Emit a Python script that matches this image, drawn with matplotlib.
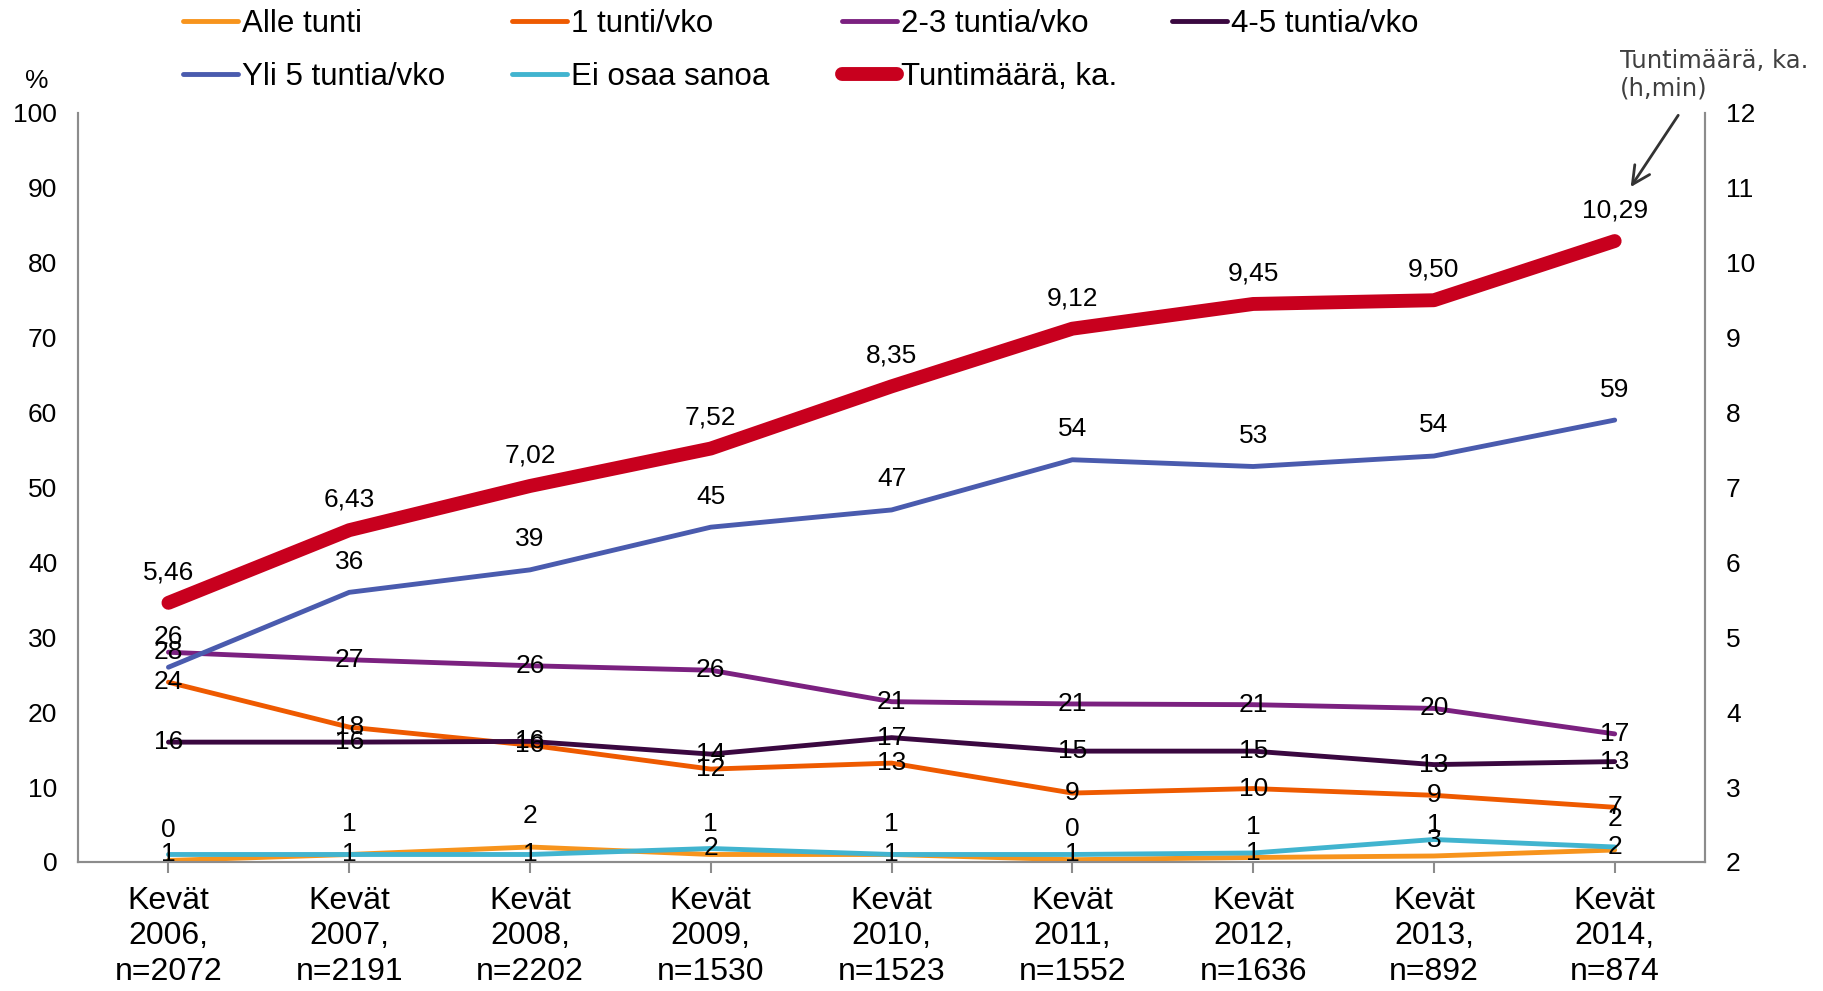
import matplotlib.pyplot as plt
from matplotlib.lines import Line2D

plt.rcParams['font.family'] = ['Liberation Sans', 'DejaVu Sans']

# data
vuodet = ["Kevät\n2006,\nn=2072", "Kevät\n2007,\nn=2191", "Kevät\n2008,\nn=2202",
          "Kevät\n2009,\nn=1530", "Kevät\n2010,\nn=1523", "Kevät\n2011,\nn=1552",
          "Kevät\n2012,\nn=1636", "Kevät\n2013,\nn=892", "Kevät\n2014,\nn=874"]
alle_tunti = [0.2, 1, 2, 1, 1, 0.3, 0.6, 0.8, 1.6]
yksi_tunti = [24, 18, 15.6, 12.4, 13.2, 9.2, 9.8, 8.9, 7.3]
kaksi_kolme = [28, 27, 26.2, 25.6, 21.4, 21.1, 21, 20.5, 17.1]
nelja_viisi = [16, 16, 16.1, 14.4, 16.6, 14.8, 14.8, 13, 13.4]
yli_viisi = [26, 36, 39, 44.7, 47, 53.7, 52.8, 54.2, 59]
ei_osaa = [1, 1, 1, 1.8, 1, 1, 1.2, 3, 2]
tuntimaara = [5.46, 6.43, 7.02, 7.52, 8.35, 9.12, 9.45, 9.50, 10.29]

nimet = ["Alle tunti", "1 tunti/vko", "2-3 tuntia/vko", "4-5 tuntia/vko",
         "Yli 5 tuntia/vko", "Ei osaa sanoa", "Tuntimäärä, ka."]
varit = ["#F7941D", "#EE5A00", "#7B2180", "#3A0840", "#4A5BAE", "#41B4CF", "#C8001E"]

x = list(range(len(vuodet)))

fig = plt.figure(figsize=(18.24, 9.91), dpi=100)
ax = fig.add_axes([0.0428, 0.1302, 0.892, 0.7558])
ax2 = ax.twinx()

sarjat = [alle_tunti, yksi_tunti, kaksi_kolme, nelja_viisi, yli_viisi, ei_osaa]
# label offsets in points (0 = on the point)
siirto = [22, 0, 0, 0, 22, 0]
for s, vari in zip(sarjat, varit):
    ax.plot(x, s, color=vari, lw=3.5, solid_capstyle='round', zorder=2)
for s, off in zip(sarjat, siirto):
    for xi, v in zip(x, s):
        ax.annotate(f"{v:.0f}", (xi, v), xytext=(0, off), textcoords='offset points',
                    ha='center', va='center', fontsize=19, color='black', zorder=5)

ax2.plot(x, tuntimaara, color=varit[6], lw=10, solid_capstyle='round', zorder=3)
for xi, v in zip(x, tuntimaara):
    ax2.annotate(f"{v:.2f}".replace(".", ","), (xi, v), xytext=(0, 22),
                 textcoords='offset points', ha='center', va='center', fontsize=19)

ax.set_xlim(-0.5, 8.5)
ax.set_ylim(0, 100)
ax.set_yticks(range(0, 101, 10))
ax2.set_ylim(2, 12)
ax2.set_yticks(range(2, 13))
ax.set_xticks(x)
ax.set_xticklabels(vuodet, fontsize=23, linespacing=1.25)

for a in (ax, ax2):
    a.spines['top'].set_visible(False)
    for sp in ('left', 'right', 'bottom'):
        a.spines[sp].set_color('#8c8c8c')
        a.spines[sp].set_linewidth(1.5)
ax.tick_params(axis='y', length=0, labelsize=19, pad=15)
ax2.tick_params(axis='y', length=0, labelsize=19, pad=15)
ax.tick_params(axis='x', length=8, width=1.5, color='#8c8c8c', pad=9)

fig.text(0.02, 0.918, "%", fontsize=19, ha='center', va='center')

fig.text(0.888, 0.951, "Tuntimäärä, ka.\n(h,min)", fontsize=17.5, color='#404040',
         family='DejaVu Sans', ha='left', va='top', linespacing=1.2)
ax2.annotate("", xy=(8.08, 10.98), xytext=(8.36, 12.0),
             arrowprops=dict(arrowstyle='->', color='#333333', lw=2, mutation_scale=32),
             annotation_clip=False)

# legend, one entry per slot
sarakkeet = [183, 512, 842, 1172]
rivit = [24, 77]
for i, (nimi, vari) in enumerate(zip(nimet, varit)):
    rivi, sarake = divmod(i, 4)
    lw = 10 if i == 6 else 3.5
    h = Line2D([], [], color=vari, lw=lw, solid_capstyle='round')
    fig.legend(handles=[h], labels=[nimi], loc='center left',
               bbox_to_anchor=(sarakkeet[sarake] / 1824, 1 - rivit[rivi] / 991),
               frameon=False, fontsize=22.5, handlelength=1.75, handletextpad=0.15,
               borderpad=0, borderaxespad=0)

fig.savefig("out.png", dpi=100)
